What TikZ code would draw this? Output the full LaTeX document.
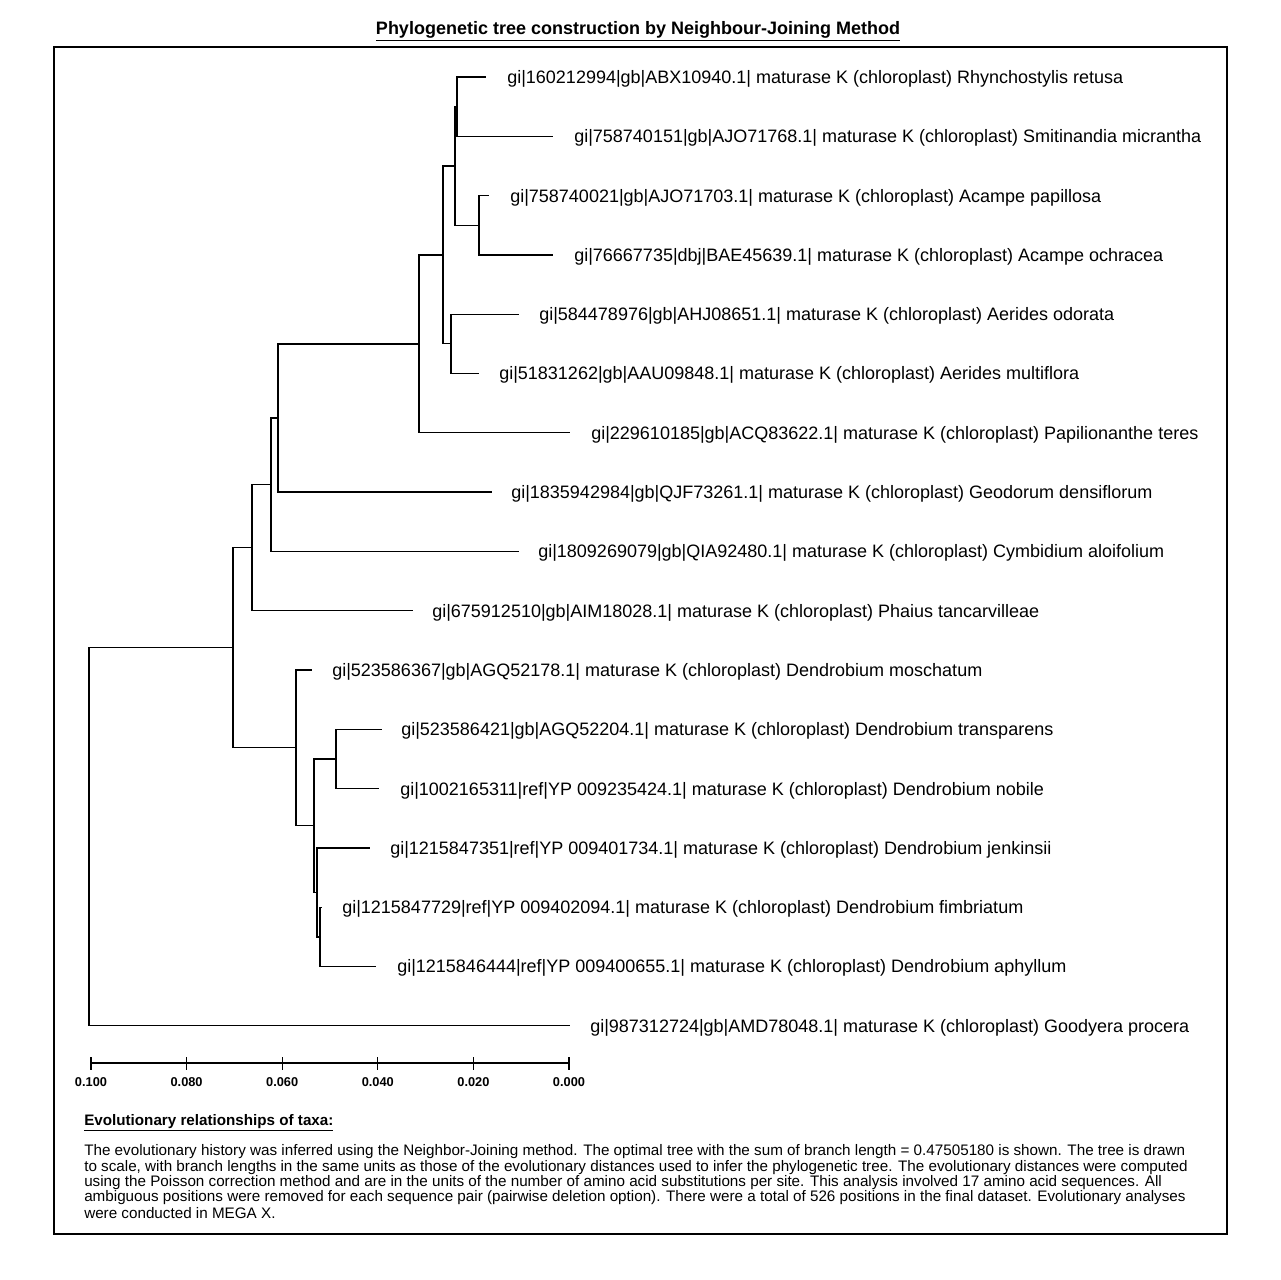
\documentclass[tikz,border=0pt]{standalone}
\usepackage{fontspec}
\setmainfont{Liberation Sans}
\begin{document}
\begin{tikzpicture}[x=0.75pt,y=-0.75pt,
  branch/.style={line width=0.95pt,line cap=rect},
  leaf/.style={anchor=west,inner sep=0pt,yshift=-1.4pt,font=\fontsize{13.5}{16}\selectfont},
  para/.style={anchor=west,inner sep=0pt,font=\fontsize{11.42}{13}\selectfont},
  ticklab/.style={anchor=center,inner sep=0pt,font=\fontsize{9.6}{11}\selectfont\bfseries},
  frame/.style={line width=1.5pt}]
\useasboundingbox (0,0) rectangle (1280,1280);
\fill[white] (0,0) rectangle (1280,1280);

% title and frame
\node[inner sep=0pt,font=\fontsize{13.5}{16}\selectfont\bfseries] (title) at (638,31) {\underline{Phylogenetic tree construction by Neighbour-Joining Method}};
\draw[frame] (54,47) rectangle (1227,1234);

% leaf tips
\coordinate (t1) at (485,77);
\coordinate (t2) at (552,136.3);
\coordinate (t3) at (488,195.6);
\coordinate (t4) at (552,254.9);
\coordinate (t5) at (518,314.2);
\coordinate (t6) at (478,373.5);
\coordinate (t7) at (569,432.8);
\coordinate (t8) at (491,492.1);
\coordinate (t9) at (518,551.4);
\coordinate (t10) at (412,610.7);
\coordinate (t11) at (311,670);
\coordinate (t12) at (381,729.3);
\coordinate (t13) at (378,788.6);
\coordinate (t14) at (369,847.9);
\coordinate (t15) at (321.5,907.2);
\coordinate (t16) at (375,966.5);
\coordinate (t17) at (569,1025.8);

% internal nodes
\coordinate (A) at (457,106.6);
\coordinate (B) at (479,225.2);
\coordinate (C) at (455,165.9);
\coordinate (D) at (451,343.8);
\coordinate (E) at (443,254.9);
\coordinate (F) at (419,343.9);
\coordinate (G) at (278,418.0);
\coordinate (H) at (271,484.7);
\coordinate (I) at (252,547.7);
\coordinate (K) at (336,758.9);
\coordinate (L) at (320,936.9);
\coordinate (M) at (317,892.4);
\coordinate (N) at (314,825.6);
\coordinate (O) at (296,747.8);
\coordinate (P) at (233,647.8);
\coordinate (R) at (89,836.8);

% branches
\draw[branch] (A) |- (t1);
\draw[branch] (A) |- (t2);
\draw[branch] (B) |- (t3);
\draw[branch] (B) |- (t4);
\draw[branch] (C) |- (A);
\draw[branch] (C) |- (B);
\draw[branch] (D) |- (t5);
\draw[branch] (D) |- (t6);
\draw[branch] (E) |- (C);
\draw[branch] (E) |- (D);
\draw[branch] (F) |- (E);
\draw[branch] (F) |- (t7);
\draw[branch] (G) |- (F);
\draw[branch] (G) |- (t8);
\draw[branch] (H) |- (G);
\draw[branch] (H) |- (t9);
\draw[branch] (I) |- (H);
\draw[branch] (I) |- (t10);
\draw[branch] (K) |- (t12);
\draw[branch] (K) |- (t13);
\draw[branch] (L) |- (t15);
\draw[branch] (L) |- (t16);
\draw[branch] (M) |- (t14);
\draw[branch] (M) |- (L);
\draw[branch] (N) |- (K);
\draw[branch] (N) |- (M);
\draw[branch] (O) |- (t11);
\draw[branch] (O) |- (N);
\draw[branch] (P) |- (I);
\draw[branch] (P) |- (O);
\draw[branch] (R) |- (P);
\draw[branch] (R) |- (t17);

% leaf labels
\node[leaf] (l1) at (507,77) {gi|160212994|gb|ABX10940.1| maturase K (chloroplast) Rhynchostylis retusa};
\node[leaf] (l2) at (574,136.3) {gi|758740151|gb|AJO71768.1| maturase K (chloroplast) Smitinandia micrantha};
\node[leaf] (l3) at (510,195.6) {gi|758740021|gb|AJO71703.1| maturase K (chloroplast) Acampe papillosa};
\node[leaf] (l4) at (574,254.9) {gi|76667735|dbj|BAE45639.1| maturase K (chloroplast) Acampe ochracea};
\node[leaf] (l5) at (539,314.2) {gi|584478976|gb|AHJ08651.1| maturase K (chloroplast) Aerides odorata};
\node[leaf] (l6) at (499,373.5) {gi|51831262|gb|AAU09848.1| maturase K (chloroplast) Aerides multiflora};
\node[leaf] (l7) at (591,432.8) {gi|229610185|gb|ACQ83622.1| maturase K (chloroplast) Papilionanthe teres};
\node[leaf] (l8) at (511,492.1) {gi|1835942984|gb|QJF73261.1| maturase K (chloroplast) Geodorum densiflorum};
\node[leaf] (l9) at (538,551.4) {gi|1809269079|gb|QIA92480.1| maturase K (chloroplast) Cymbidium aloifolium};
\node[leaf] (l10) at (432,610.7) {gi|675912510|gb|AIM18028.1| maturase K (chloroplast) Phaius tancarvilleae};
\node[leaf] (l11) at (332,670) {gi|523586367|gb|AGQ52178.1| maturase K (chloroplast) Dendrobium moschatum};
\node[leaf] (l12) at (401,729.3) {gi|523586421|gb|AGQ52204.1| maturase K (chloroplast) Dendrobium transparens};
\node[leaf] (l13) at (400,788.6) {gi|1002165311|ref|YP 009235424.1| maturase K (chloroplast) Dendrobium nobile};
\node[leaf] (l14) at (390,847.9) {gi|1215847351|ref|YP 009401734.1| maturase K (chloroplast) Dendrobium jenkinsii};
\node[leaf] (l15) at (342,907.2) {gi|1215847729|ref|YP 009402094.1| maturase K (chloroplast) Dendrobium fimbriatum};
\node[leaf] (l16) at (397,966.5) {gi|1215846444|ref|YP 009400655.1| maturase K (chloroplast) Dendrobium aphyllum};
\node[leaf] (l17) at (590,1025.8) {gi|987312724|gb|AMD78048.1| maturase K (chloroplast) Goodyera procera};

% scale bar
\coordinate (s0) at (91,1063);
\coordinate (s1) at (186.6,1063);
\coordinate (s2) at (282.2,1063);
\coordinate (s3) at (377.8,1063);
\coordinate (s4) at (473.4,1063);
\coordinate (s5) at (569,1063);
\draw[branch,line cap=butt] (s0) -- (s5);
\foreach \s/\v in {s0/0.100,s1/0.080,s2/0.060,s3/0.040,s4/0.020,s5/0.000}{
  \draw[branch,line cap=butt] ([yshift=4.5pt]\s) -- ([yshift=-5pt]\s);
  \node[ticklab] (lab\s) at ([yshift=-14.5pt]\s) {\v};
}

% caption
\node[anchor=west,inner sep=0pt,font=\fontsize{11.4}{13}\selectfont\bfseries] (cap) at (84,1123) {\underline{Evolutionary relationships of taxa:}};
\node[para] (p1) at (84,1152) {The evolutionary history was inferred using the Neighbor-Joining method. The optimal tree with the sum of branch length = 0.47505180 is shown. The tree is drawn};
\node[para] (p2) at (84,1167.3) {to scale, with branch lengths in the same units as those of the evolutionary distances used to infer the phylogenetic tree. The evolutionary distances were computed};
\node[para] (p3) at (84,1182.6) {using the Poisson correction method and are in the units of the number of amino acid substitutions per site. This analysis involved 17 amino acid sequences. All};
\node[para] (p4) at (84,1197.9) {ambiguous positions were removed for each sequence pair (pairwise deletion option). There were a total of 526 positions in the final dataset. Evolutionary analyses};
\node[para] (p5) at (84,1213.2) {were conducted in MEGA X.};
\end{tikzpicture}
\end{document}
